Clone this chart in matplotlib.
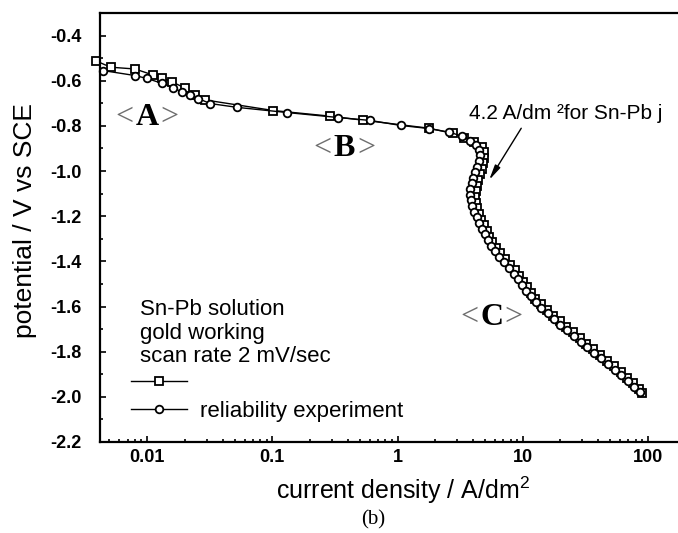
import matplotlib
matplotlib.use("Agg")
import matplotlib.pyplot as plt
from matplotlib.ticker import FixedLocator, LogLocator, NullFormatter, FixedFormatter

plt.rcParams['font.family'] = ['Liberation Sans', 'DejaVu Sans']
plt.rcParams['mathtext.fontset'] = 'custom'
plt.rcParams['mathtext.rm'] = 'Liberation Sans'

# ---- data ----
sq_x = [0.0039, 0.0051, 0.0080, 0.0112, 0.0132, 0.0158, 0.0200, 0.0242, 0.0290,
        0.102, 0.291, 0.534, 1.77, 2.75, 3.37, 4.1, 4.7, 4.9, 4.95, 4.85, 4.7,
        4.55, 4.4, 4.3, 4.2, 4.15, 4.2, 4.3, 4.45, 4.65, 4.9, 5.15, 5.4, 5.7,
        6.1, 6.6, 7.2, 7.9, 8.6, 9.3, 10.0, 10.8, 11.6, 12.6, 14.0, 15.7, 17.6,
        19.8, 22.3, 25.2, 28.5, 32.3, 36.6, 41.6, 47.2, 53.5, 60.6, 68.4, 76.5,
        85.0, 90.0]
sq_y = [-0.512, -0.540, -0.548, -0.575, -0.588, -0.605, -0.632, -0.662, -0.685,
        -0.732, -0.757, -0.775, -0.810, -0.833, -0.852, -0.872, -0.893, -0.915,
        -0.940, -0.965, -0.990, -1.015, -1.040, -1.065, -1.090, -1.115, -1.140,
        -1.165, -1.190, -1.215, -1.240, -1.265, -1.290, -1.315, -1.340, -1.365,
        -1.390, -1.415, -1.440, -1.465, -1.490, -1.515, -1.540, -1.565, -1.590,
        -1.615, -1.640, -1.665, -1.690, -1.715, -1.740, -1.765, -1.790, -1.815,
        -1.840, -1.865, -1.890, -1.915, -1.940, -1.965, -1.985]

ci_x = [0.00445, 0.0080, 0.0100, 0.0132, 0.0161, 0.0191, 0.0221, 0.0256, 0.0319,
        0.0525, 0.132, 0.337, 0.608, 1.06, 1.80, 2.6, 3.25, 3.8, 4.25, 4.5, 4.55,
        4.45, 4.3, 4.15, 4.0, 3.9, 3.82, 3.8, 3.85, 3.95, 4.1, 4.3, 4.5, 4.75,
        5.0, 5.3, 5.6, 6.0, 6.5, 7.1, 7.8, 8.5, 9.2, 9.9, 10.7, 11.6, 12.7, 14.1,
        15.8, 17.8, 20.0, 22.6, 25.6, 29.0, 32.9, 37.3, 42.3, 48.0, 54.4, 61.5,
        69.3, 77.6, 86.5]
ci_y = [-0.555, -0.577, -0.590, -0.612, -0.630, -0.652, -0.665, -0.679, -0.701,
        -0.718, -0.741, -0.763, -0.776, -0.798, -0.812, -0.828, -0.845, -0.865,
        -0.885, -0.905, -0.930, -0.955, -0.980, -1.005, -1.030, -1.055, -1.080,
        -1.105, -1.130, -1.155, -1.180, -1.205, -1.230, -1.255, -1.280, -1.305,
        -1.330, -1.355, -1.380, -1.405, -1.430, -1.455, -1.480, -1.505, -1.530,
        -1.555, -1.580, -1.605, -1.630, -1.655, -1.680, -1.705, -1.730, -1.755,
        -1.780, -1.805, -1.830, -1.855, -1.880, -1.905, -1.930, -1.955, -1.980]

series_labels = ["", "reliability experiment"]
x_ticks = [0.01, 0.1, 1, 10, 100]
x_ticklabels = ["0.01", "0.1", "1", "10", "100"]
y_ticks = [-0.4, -0.6, -0.8, -1.0, -1.2, -1.4, -1.6, -1.8, -2.0, -2.2]
y_ticklabels = ["-0.4", "-0.6", "-0.8", "-1.0", "-1.2", "-1.4", "-1.6", "-1.8", "-2.0", "-2.2"]
y_minor = [-0.3, -0.5, -0.7, -0.9, -1.1, -1.3, -1.5, -1.7, -1.9, -2.1]
info_text = "Sn-Pb solution\ngold working\nscan rate 2 mV/sec"

W, H = 678, 533
fig = plt.figure(figsize=(W / 100, H / 100), dpi=100)
ax = fig.add_axes([100 / W, 1 - 442 / H, 1 - 100 / W, (442 - 13) / H])

mk = dict(color='black', lw=1.0, markersize=5.5, markerfacecolor='white',
          markeredgecolor='black', markeredgewidth=1.3)
l1, = ax.plot(sq_x, sq_y, marker='s', label=series_labels[0], clip_on=False, **mk)
l2, = ax.plot(ci_x, ci_y, marker='o', label=series_labels[1], clip_on=False, **mk)

ax.set_xscale('log')
ax.set_xlim(0.0042, 174)
ax.set_ylim(-2.2, -0.3)

ax.xaxis.set_major_locator(FixedLocator(x_ticks))
ax.xaxis.set_major_formatter(FixedFormatter(x_ticklabels))
ax.xaxis.set_minor_locator(LogLocator(base=10, subs=range(2, 10)))
ax.xaxis.set_minor_formatter(NullFormatter())
ax.yaxis.set_major_locator(FixedLocator(y_ticks))
ax.yaxis.set_major_formatter(FixedFormatter(y_ticklabels))
ax.yaxis.set_minor_locator(FixedLocator(y_minor))

ax.tick_params(which='both', direction='in', top=False, right=False, width=1.2)
ax.tick_params(which='major', length=4)
ax.tick_params(which='minor', length=2)
ax.tick_params(axis='y', which='major', pad=13, labelsize=13)
ax.tick_params(axis='x', which='major', pad=5, labelsize=13)
for lab in ax.get_xticklabels() + ax.get_yticklabels():
    lab.set_fontweight('semibold')

for s in ['left', 'bottom', 'top']:
    ax.spines[s].set_linewidth(1.6)
ax.spines['right'].set_visible(False)

ax.set_ylabel("potential / V vs SCE", fontsize=19, va='center')
ax.yaxis.set_label_coords(-0.13, 0.517)
ax.set_xlabel("current density / A/dm$^{\\mathregular{2}}$", fontsize=18, va='center')
ax.xaxis.set_label_coords(0.524, -0.112)

# region labels
serif = ['Liberation Serif', 'DejaVu Serif']
for letter, (lx, ly) in zip(["A", "B", "C"], [(0.01, -0.763), (0.377, -0.90), (5.65, -1.647)]):
    ax.annotate(letter, (lx, ly), ha='center', va='center', fontsize=23,
                family=serif, color='black', fontweight='bold')
    ax.annotate("<", (lx, ly), xytext=(-9.5, 0), textcoords='offset points',
                ha='right', va='center', fontsize=23, family=serif, color='#6e6e6e')
    ax.annotate(">", (lx, ly), xytext=(9.5, 0), textcoords='offset points',
                ha='left', va='center', fontsize=23, family=serif, color='#6e6e6e')

# annotation arrow
ax.annotate("", xy=(5.25, -1.05), xytext=(10.0, -0.80),
            arrowprops=dict(arrowstyle='-|>,head_length=0.9,head_width=0.18',
                            color='black', lw=1.0, mutation_scale=10))
ax.text(22.1, -0.745, "4.2 A/dm \u00b2for Sn-Pb j", ha='center', va='center',
        fontsize=15)

# info text + legend
fig.text(140 / W, 1 - 333 / H, info_text, ha='left', va='center', fontsize=16,
         linespacing=1.18)
leg = ax.legend(handles=[l1, l2], labels=series_labels, loc='upper left',
                bbox_to_anchor=(131 / W, 1 - 373 / H), bbox_transform=fig.transFigure,
                frameon=False, fontsize=16, handlelength=2.5, handletextpad=0.6,
                labelspacing=0.3, borderpad=0, borderaxespad=0)

fig.text(373 / W, 1 - 520 / H, "(b)", ha='center', va='center', fontsize=15,
         family=serif)

fig.savefig("out.png", dpi=100)
